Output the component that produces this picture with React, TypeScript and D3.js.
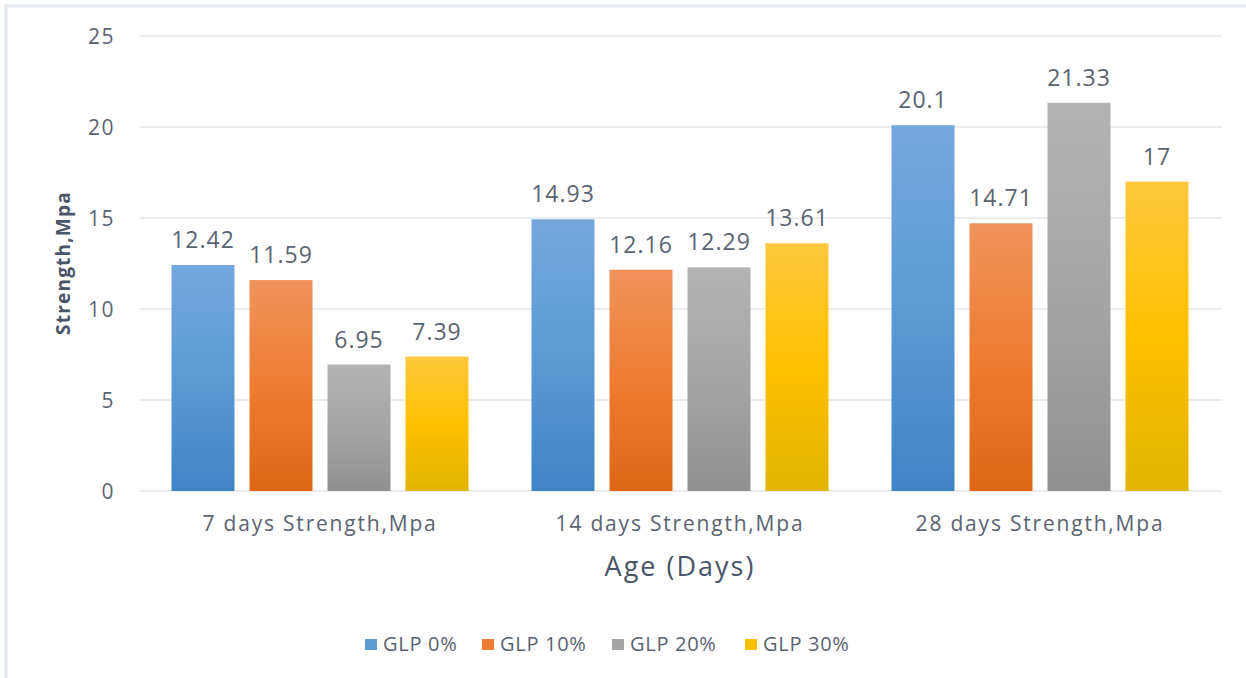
import React from "react";
import * as d3 from "d3";

const categories = ["7 days Strength,Mpa", "14 days Strength,Mpa", "28 days Strength,Mpa"];
const seriesNames = ["GLP 0%", "GLP 10%", "GLP 20%", "GLP 30%"];
const glp0 = [12.42, 14.93, 20.1];
const glp10 = [11.59, 12.16, 14.71];
const glp20 = [6.95, 12.29, 21.33];
const glp30 = [7.39, 13.61, 17];
const valueLabels = [
  ["12.42", "14.93", "20.1"],
  ["11.59", "12.16", "14.71"],
  ["6.95", "12.29", "21.33"],
  ["7.39", "13.61", "17"],
];
const yTicks = [0, 5, 10, 15, 20, 25];

const seriesValues = [glp0, glp10, glp20, glp30];
const gradients = [
  ["#74a8dd", "#5b9bd5", "#3f84c7"],
  ["#f0935c", "#ed7d31", "#de6617"],
  ["#b3b3b3", "#a5a5a5", "#909090"],
  ["#ffc73c", "#ffc000", "#e2b400"],
];
const legendColors = ["#5b9bd5", "#ed7d31", "#a5a5a5", "#ffc000"];

const W = 1246;
const H = 678;
const FONT = "'Open Sans', sans-serif";
const TEXT = "#5a6372";

export default function App() {
  const x0 = d3.scaleBand<string>().domain(categories).range([140, 1220]).padding(0);
  const x1 = d3
    .scaleBand<string>()
    .domain(seriesNames)
    .range([31.5, 328.5])
    .paddingInner(15 / 78)
    .paddingOuter(0);
  const y = d3.scaleLinear().domain([0, 25]).range([491, 36]);

  const legendX = [365, 482, 612, 745];

  return (
    <svg
      width={W}
      height={H}
      style={{ position: "absolute", left: 0, top: 0, background: "#fff" }}
      fontFamily={FONT}
    >
      <defs>
        {gradients.map((g, i) => (
          <linearGradient key={i} id={`grad${i}`} x1="0" y1="0" x2="0" y2="1">
            <stop offset="0%" stopColor={g[0]} />
            <stop offset="50%" stopColor={g[1]} />
            <stop offset="100%" stopColor={g[2]} />
          </linearGradient>
        ))}
      </defs>
      <rect x={0} y={0} width={W} height={H} fill="#fff" />
      <rect x={6} y={6} width={W + 10} height={H + 10} fill="none" stroke="#e3e7ee" strokeWidth={3} />

      {yTicks.map((t) => (
        <g key={t}>
          <line x1={140} x2={1222} y1={y(t)} y2={y(t)} stroke="#e2e6ec" strokeWidth={1.5} />
          <text x={115} y={y(t)} dy="0.36em" textAnchor="end" fontSize={21} letterSpacing={1.5} fill={TEXT}>
            {t}
          </text>
        </g>
      ))}

      <text
        transform={`translate(70,263) rotate(-90)`}
        textAnchor="middle"
        fontSize={19}
        fontWeight="bold"
        letterSpacing={1.2}
        fill="#4a5468"
      >
        Strength,Mpa
      </text>

      {categories.map((c, ci) => (
        <g key={c} transform={`translate(${x0(c)},0)`}>
          {seriesNames.map((s, si) => {
            const v = seriesValues[si][ci];
            const bx = x1(s)!;
            const bw = x1.bandwidth();
            return (
              <g key={s}>
                <rect x={bx} y={y(v)} width={bw} height={y(0) - y(v)} fill={`url(#grad${si})`} />
                <text
                  x={bx + bw / 2}
                  y={y(v) - 17}
                  textAnchor="middle"
                  fontSize={23}
                  letterSpacing={1}
                  fill={TEXT}
                >
                  {valueLabels[si][ci]}
                </text>
              </g>
            );
          })}
          <text
            x={x0.bandwidth() / 2}
            y={531}
            textAnchor="middle"
            fontSize={21}
            letterSpacing={1.8}
            fill={TEXT}
          >
            {c}
          </text>
        </g>
      ))}

      <text x={680} y={576} textAnchor="middle" fontSize={27} letterSpacing={2} fill="#4a5468">
        Age (Days)
      </text>

      {seriesNames.map((s, i) => (
        <g key={s}>
          <rect x={legendX[i]} y={639} width={12} height={11} fill={legendColors[i]} />
          <text x={legendX[i] + 18} y={651} fontSize={20} letterSpacing={0.7} fill={TEXT}>
            {s}
          </text>
        </g>
      ))}
    </svg>
  );
}
